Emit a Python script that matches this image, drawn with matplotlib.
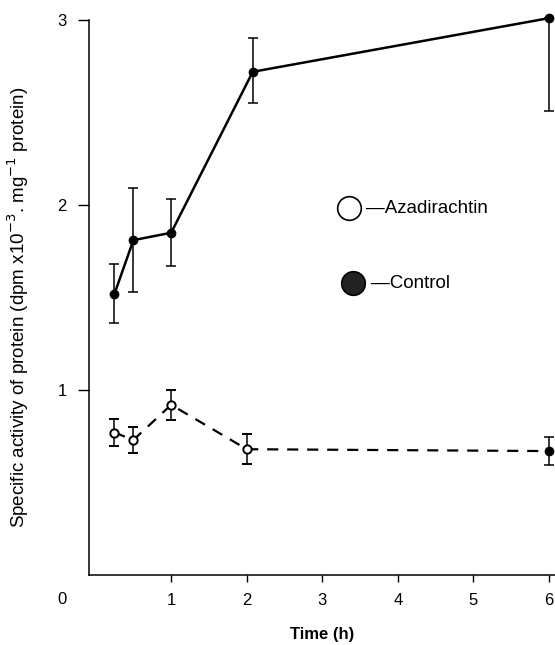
import numpy as np
import matplotlib.pyplot as plt

plt.rcParams['font.family'] = ['Liberation Sans', 'DejaVu Sans']

# Control (filled circles, solid line)
ctrl_time = [0.25, 0.5, 1.0, 2.08, 6.0]
ctrl_val = [1.52, 1.81, 1.85, 2.72, 3.01]
ctrl_err_lo = [0.16, 0.28, 0.18, 0.17, 0.50]
ctrl_err_hi = [0.16, 0.28, 0.18, 0.18, 0.0]

# Azadirachtin (open circles, dashed line)
aza_time = [0.25, 0.5, 1.0, 2.0, 6.0]
aza_val = [0.77, 0.73, 0.92, 0.68, 0.67]
aza_err = [0.075, 0.07, 0.08, 0.08, 0.075]

x_ticks = [1, 2, 3, 4, 5, 6]
y_ticks = [1, 2, 3]

fig = plt.figure(figsize=(5.55, 6.45), dpi=100)
ax = fig.add_axes([0.160, 0.1085, 0.84, 0.8605])

ax.errorbar(ctrl_time, ctrl_val, yerr=[ctrl_err_lo, ctrl_err_hi], fmt='-o',
            color='black', lw=1.8, ms=6, mfc='black', elinewidth=1.1,
            capsize=3.5, capthick=1.1, clip_on=False, zorder=3)

ax.errorbar(aza_time[:-1], aza_val[:-1], yerr=aza_err[:-1], fmt='o',
            color='black', ms=6, mfc='white', mew=1.4, elinewidth=1.1,
            capsize=3.5, capthick=1.1, zorder=4)
ax.errorbar(aza_time[-1:], aza_val[-1:], yerr=aza_err[-1:], fmt='o',
            color='black', ms=6, mfc='black', elinewidth=1.1,
            capsize=3.5, capthick=1.1, clip_on=False, zorder=4)
ax.plot(aza_time, aza_val, ls=(0, (5, 4)), color='black', lw=1.6, zorder=2)

ax.set_xlim(-0.09, 6.08)
ax.set_ylim(0, 3)
ax.set_xticks(x_ticks)
ax.set_yticks(y_ticks)
ax.tick_params(axis='x', direction='out', length=5, width=1, labelsize=12, pad=8)
ax.tick_params(axis='y', direction='out', length=8, width=1, labelsize=12, pad=8)
ax.text(-0.44, -0.135, '0', fontsize=12, ha='center', va='center')

for s in ['top', 'right']:
    ax.spines[s].set_visible(False)
for s in ['left', 'bottom']:
    ax.spines[s].set_linewidth(1.1)

ax.set_xlabel('Time (h)', fontsize=12, fontweight='bold', va='center')
ax.xaxis.set_label_coords(0.5, -0.1065)
ax.set_ylabel('Specific activity of protein (dpm x10$^{-3}$. mg$^{-1}$ protein)',
              fontsize=13.5, va='center')
ax.yaxis.set_label_coords(-0.152, 0.482)

# hand-drawn style legend
ax.plot([0.558], [0.661], transform=ax.transAxes, marker='o', ms=17,
        mfc='white', mec='black', mew=1.2, clip_on=False)
ax.text(0.594, 0.661, '\u2014Azadirachtin', transform=ax.transAxes,
        fontsize=13.5, va='center', ha='left')
ax.plot([0.567], [0.526], transform=ax.transAxes, marker='o', ms=17,
        mfc='#222222', mec='black', mew=1.2, clip_on=False)
ax.text(0.605, 0.526, '\u2014Control', transform=ax.transAxes,
        fontsize=13.5, va='center', ha='left')

fig.savefig('out.png', dpi=100)
